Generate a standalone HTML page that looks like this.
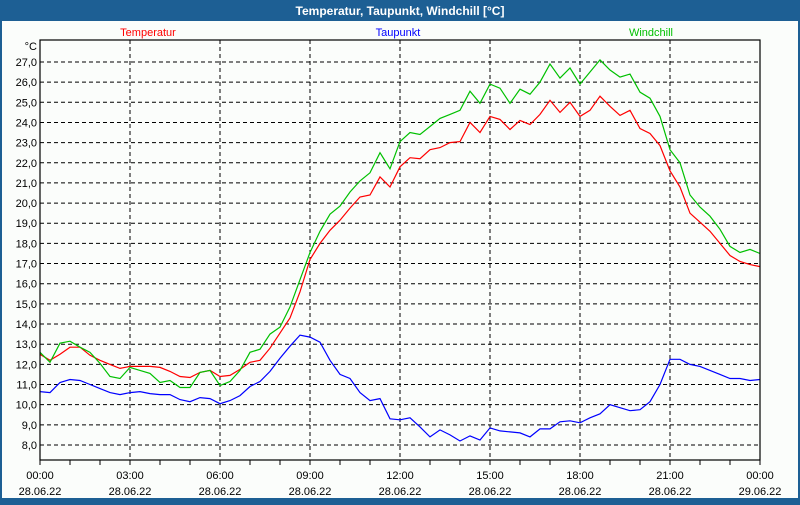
<!DOCTYPE html>
<html><head><meta charset="utf-8"><style>
html,body{margin:0;padding:0;}
body{width:800px;height:500px;overflow:hidden;background:#1d5f94;font-family:"Liberation Sans",sans-serif;}
#wrap{position:absolute;left:0;top:0;width:800px;height:500px;}
</style></head><body>
<div id="wrap">
<svg id="chart" width="800" height="500" xmlns="http://www.w3.org/2000/svg">
<rect x="0" y="0" width="800" height="500" fill="#1d5f94"/>
<rect x="2" y="21" width="796" height="477" fill="#fbfdfb"/>
<text x="400" y="15" fill="#ffffff" font-size="12" font-weight="bold" text-anchor="middle">Temperatur, Taupunkt, Windchill [°C]</text>
<text x="148" y="36" fill="#ff0000" font-size="11" text-anchor="middle">Temperatur</text>
<text x="398" y="36" fill="#0000ff" font-size="11" text-anchor="middle">Taupunkt</text>
<text x="651" y="36" fill="#00c000" font-size="11" text-anchor="middle">Windchill</text>
<text x="37" y="50" fill="#000" font-size="11" text-anchor="end">°C</text>
<g id="grid"></g>
<g id="series"></g>
<rect x="40" y="40" width="720" height="420" fill="none" stroke="#000" stroke-width="1.2"/>
<g id="axes"></g>
</svg>
</div>
<script>
const minutes = [];
for (let i = 0; i <= 72; i++) minutes.push(i * 20);
const temperatur = [12.5,12.2,12.5,12.85,12.85,12.45,12.2,12.0,11.8,11.9,11.9,11.9,11.85,11.65,11.4,11.35,11.6,11.7,11.4,11.45,11.75,12.1,12.2,12.8,13.55,14.3,15.6,17.2,18.0,18.65,19.15,19.75,20.3,20.4,21.3,20.8,21.8,22.25,22.2,22.65,22.75,23.0,23.05,24.0,23.5,24.3,24.15,23.65,24.1,23.9,24.4,25.1,24.5,25.0,24.3,24.6,25.3,24.8,24.35,24.6,23.7,23.45,22.85,21.6,20.8,19.5,19.05,18.6,18.0,17.4,17.1,16.95,16.85];
const windchill = [12.6,12.1,13.05,13.15,12.85,12.6,12.05,11.4,11.3,11.85,11.7,11.55,11.1,11.2,10.85,10.85,11.6,11.7,10.95,11.15,11.7,12.6,12.75,13.5,13.85,14.85,16.2,17.55,18.6,19.45,19.85,20.55,21.1,21.5,22.5,21.7,23.05,23.5,23.4,23.8,24.2,24.4,24.6,25.55,24.95,25.9,25.7,24.95,25.65,25.4,26.0,26.9,26.2,26.7,25.9,26.5,27.1,26.6,26.25,26.4,25.5,25.2,24.3,22.65,22.0,20.4,19.8,19.35,18.7,17.85,17.55,17.7,17.5];
const taupunkt = [10.65,10.6,11.1,11.25,11.2,11.0,10.8,10.6,10.5,10.6,10.65,10.55,10.5,10.5,10.25,10.15,10.35,10.3,10.05,10.2,10.45,10.9,11.15,11.65,12.3,12.9,13.45,13.35,13.1,12.2,11.5,11.3,10.6,10.2,10.3,9.3,9.25,9.35,8.9,8.4,8.75,8.5,8.2,8.45,8.25,8.85,8.7,8.65,8.6,8.4,8.8,8.8,9.15,9.2,9.1,9.35,9.55,10.0,9.85,9.7,9.75,10.15,11.0,12.25,12.25,12.0,11.9,11.7,11.5,11.3,11.3,11.2,11.25];
const yTicks = [8,9,10,11,12,13,14,15,16,17,18,19,20,21,22,23,24,25,26,27];
const xTickLabels = ["00:00","03:00","06:00","09:00","12:00","15:00","18:00","21:00","00:00"];
const xDateLabels = ["28.06.22","28.06.22","28.06.22","28.06.22","28.06.22","28.06.22","28.06.22","28.06.22","29.06.22"];

const NS = "http://www.w3.org/2000/svg";
function xs(m){ return 40 + m * 0.5; }
function ys(v){ return 445 - (v - 8) * 20.16; }
function mk(tag, attrs, parent){ const e = document.createElementNS(NS, tag); for (const k in attrs) e.setAttribute(k, attrs[k]); parent.appendChild(e); return e; }

const grid = document.getElementById('grid');
const axes = document.getElementById('axes');
const series = document.getElementById('series');

yTicks.forEach(v => {
  const l = mk('line', {x1:40, x2:760, y1:ys(v), y2:ys(v), stroke:'#000', 'stroke-width':1, 'stroke-dasharray':'4,3'}, grid);
  
  
  const t = mk('text', {x:37, y:ys(v)+4, 'font-size':11, 'text-anchor':'end', fill:'#000'}, axes);
  t.textContent = v.toFixed(1).replace('.', ',');
  
  
});
for (let h = 0; h <= 24; h++) {
  const x = xs(h * 60);
  const tk = mk('line', {x1:x, x2:x, y1:460, y2:465, stroke:'#000', 'stroke-width':1}, axes);
  
  
}
xTickLabels.forEach((lab, i) => {
  const x = xs(i * 180);
  if (i > 0 && i < xTickLabels.length - 1) {
    const g = mk('line', {x1:x, x2:x, y1:40, y2:460, stroke:'#000', 'stroke-width':1, 'stroke-dasharray':'4,3'}, grid);
    
    
  }
  const t = mk('text', {x:x, y:479, 'font-size':11, 'text-anchor':'middle', fill:'#000'}, axes);
  t.textContent = lab;
  
  
  const d = mk('text', {x:x, y:495, 'font-size':11, 'text-anchor':'middle', fill:'#000'}, axes);
  d.textContent = xDateLabels[i];
  
  
});
function drawLine(vals, color, name){
  const pts = vals.map((v, i) => xs(minutes[i]).toFixed(1) + ',' + ys(v).toFixed(1)).join(' ');
  const p = mk('polyline', {points:pts, fill:'none', stroke:color, 'stroke-width':1.2}, series);
  
  
}
drawLine(taupunkt, '#0000ff', 'taupunkt-line');
drawLine(temperatur, '#ff0000', 'temperatur-line');
drawLine(windchill, '#00c000', 'windchill-line');
</script>
</body></html>
